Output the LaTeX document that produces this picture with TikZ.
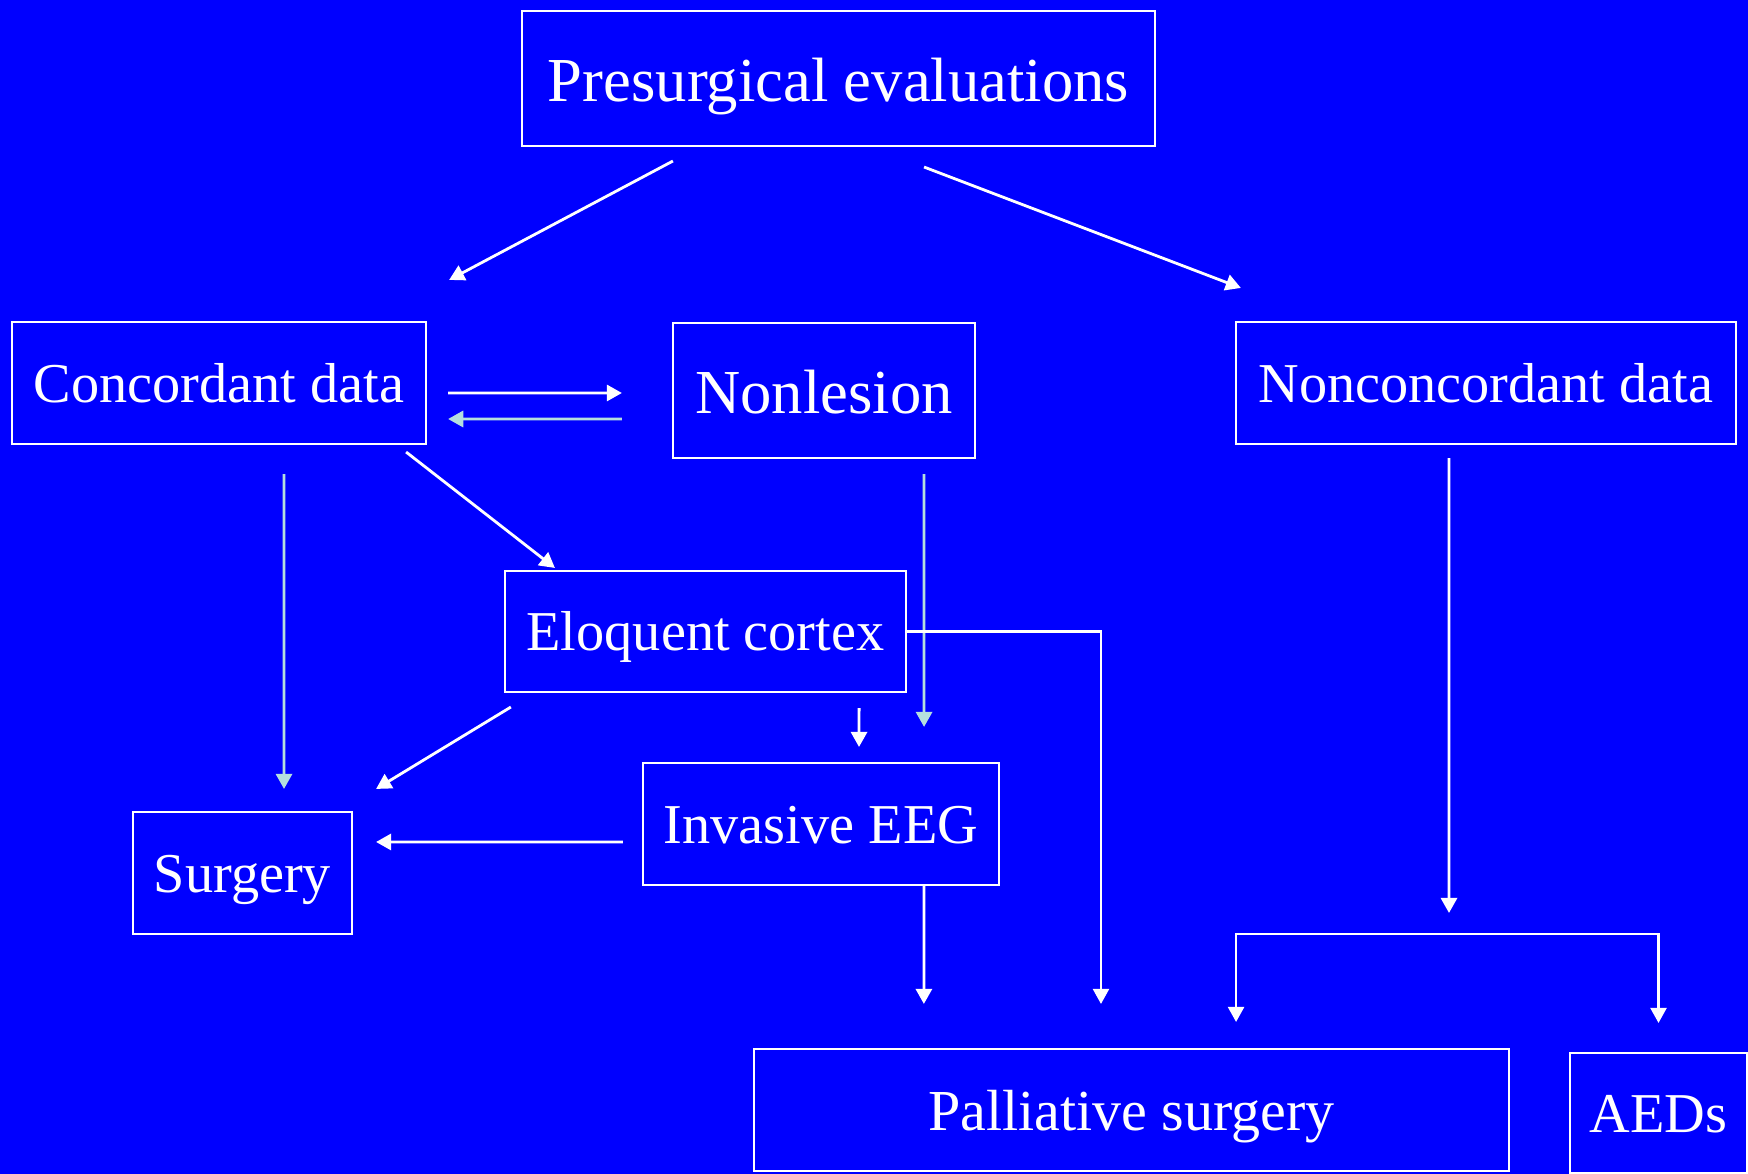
\documentclass[tikz,border=0pt]{standalone}
\usepackage{fontspec}
\setmainfont{Liberation Serif}
\usepackage{tikz}
\usetikzlibrary{arrows.meta, positioning}

\definecolor{slideblue}{RGB}{0,0,255}
\definecolor{paleteal}{RGB}{180,222,222}

\tikzset{
    box/.style={draw=white, line width=0.55pt, inner sep=0pt, outer sep=0pt, text=white,
        text height=11pt, text depth=0pt, font=\fontsize{16}{19}\selectfont},
    bigbox/.style={box, text height=13pt, font=\fontsize{17.8}{21}\selectfont},
    arr/.style={draw=white, line width=0.8pt, -{Triangle[length=4.3pt,width=4.6pt]}},
    tealarr/.style={arr, draw=paleteal, -{Triangle[length=4.3pt,width=4.6pt,fill=paleteal]}}
}

\begin{document}
\begin{tikzpicture}[x=0.01cm, y=-0.01cm]
            \fill[slideblue] (0,0) rectangle (1748,1174);
            \useasboundingbox (0,0) rectangle (1748,1174);

            % Objects
            \node[bigbox, minimum width=6.33cm, minimum height=1.35cm] (pres) at (838.5,78.5) {Presurgical evaluations};
            \node[box, minimum width=4.14cm, minimum height=1.22cm] (conc) at (219,383) {Concordant data};
            \node[bigbox, minimum width=3.02cm, minimum height=1.35cm] (nonles) at (824,390.5) {Nonlesion};
            \node[box, minimum width=5.00cm, minimum height=1.22cm] (nonconc) at (1486,383) {Nonconcordant data};
            \node[box, minimum width=4.01cm, minimum height=1.21cm] (eloq) at (705.5,631.5) {Eloquent cortex};
            \node[box, minimum width=3.56cm, minimum height=1.22cm] (ieeg) at (821,824) {Invasive EEG};
            \node[box, minimum width=2.19cm, minimum height=1.22cm] (surg) at (242.5,873) {Surgery};
            \node[box, minimum width=7.55cm, minimum height=1.22cm, text height=11.5pt, font=\fontsize{16.5}{20}\selectfont] (pall) at (1131.5,1110) {Palliative surgery};
            \node[box, minimum width=1.77cm, minimum height=1.20cm] (aeds) at (1658.5,1113) {AEDs};
            \coordinate (fork) at (1449,934);

            % Arrows from the top
            \draw[arr] ([xshift=-1.655cm,yshift=-0.15cm]pres.south) -- ([xshift=0.23cm,yshift=0.42cm]conc.north east);
            \draw[arr] ([xshift=0.855cm,yshift=-0.21cm]pres.south) -- ([xshift=0.05cm,yshift=0.34cm]nonconc.north west);

            % Concordant data and Nonlesion
            \draw[arr] ([xshift=0.22cm,yshift=-0.10cm]conc.east) -- ([xshift=-0.51cm,yshift=-0.025cm]nonles.west);
            \draw[tealarr] ([xshift=-0.51cm,yshift=-0.285cm]nonles.west) -- ([xshift=0.22cm,yshift=-0.36cm]conc.east);
            \draw[arr] ([xshift=-0.20cm,yshift=-0.08cm]conc.south east) -- ([xshift=0.50cm,yshift=0.03cm]eloq.north west);
            \draw[tealarr] ([xshift=0.65cm,yshift=-0.30cm]conc.south) -- ([xshift=0.415cm,yshift=0.23cm]surg.north);
            \draw[tealarr] ([xshift=1.00cm,yshift=-0.16cm]nonles.south) -- ([xshift=-0.75cm,yshift=0.36cm]ieeg.north east);

            % Eloquent cortex and Invasive EEG
            \draw[arr] ([xshift=0.06cm,yshift=-0.15cm]eloq.south west) -- ([xshift=0.24cm,yshift=0.23cm]surg.north east);
            \draw[arr] ([xshift=1.535cm,yshift=-0.16cm]eloq.south) -- ([xshift=0.38cm,yshift=0.16cm]ieeg.north);
            \draw[arr] ([xshift=-0.20cm,yshift=-0.18cm]ieeg.west) -- ([xshift=0.24cm,yshift=0.31cm]surg.east);
            \draw[arr, line width=0.6pt] (eloq.east) -| ([xshift=-0.305cm,yshift=0.45cm]pall.north);
            \draw[arr] ([xshift=1.03cm]ieeg.south) -- ([xshift=-2.075cm,yshift=0.45cm]pall.north);

            % Nonconcordant data
            \draw[arr] ([xshift=-0.37cm,yshift=-0.14cm]nonconc.south) -- ([yshift=0.21cm]fork);
            \draw[arr, line width=0.6pt] (fork) -| ([xshift=-2.73cm,yshift=0.27cm]pall.north east);
            \draw[arr, line width=0.6pt] (fork) -| ([yshift=0.30cm]aeds.north);
        \end{tikzpicture}
\end{document}
